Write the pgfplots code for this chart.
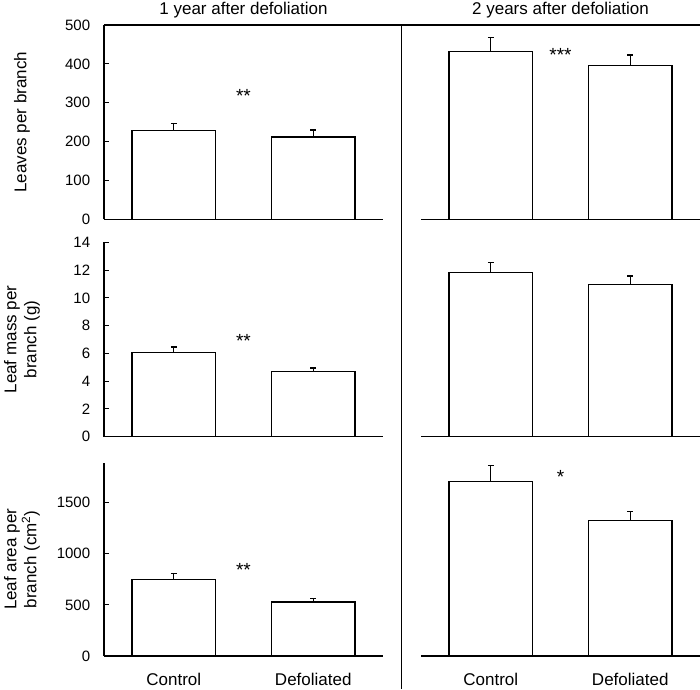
\documentclass[border=0pt]{standalone}
\usepackage{fontspec}
\setmainfont{Liberation Sans}
\usepackage{pgfplots}
\pgfplotsset{compat=1.18}
\tikzset{sig/.style={anchor=base, font=\fontsize{19}{22}\selectfont}}
\begin{document}
\fontsize{17}{20}\selectfont
\begin{tikzpicture}
\pgfplotsset{
  base/.style={
    scale only axis, width=279pt, xmin=-0.5, xmax=1.5, ymin=0, clip=false,
    axis line style={line width=1.1pt,-},
    xtick={0,1}, xticklabels={}, xtick style={draw=none},
    tick align=inside, ytick pos=left, major tick length=5pt,
    ytick style={line width=1.1pt,black},
    /pgf/number format/assume math mode=true,
    /pgf/number format/1000 sep={},
    yticklabel style={font=\fontsize{15}{18}\selectfont, xshift=-8pt},
    xticklabel style={anchor=base, yshift=-29pt},
    ylabel style={at={(axis description cs:-0.294,0.5)}, anchor=center, align=center},
    title style={at={(0.5,1)}, anchor=base, yshift=4pt},
    anchor=south west,
  },
  leftcol/.style={base, axis x line*=bottom, axis y line*=left},
  rightcol/.style={base, axis x line*=bottom, axis y line=none, ytick=\empty},
  barplot/.style={ybar, bar width=0.6, fill=white, draw=black, line width=1.3pt,
    error bars/.cd, y dir=plus, y explicit,
    error bar style={line width=1.3pt},
    error mark options={rotate=90, mark size=3pt, line width=1.3pt}},
}
\path[use as bounding box] (0pt,0pt) rectangle (700pt,689pt);
% Row 1
\begin{axis}[leftcol, at={(104pt,469.7pt)}, height=194.3pt, ymax=500,
  ytick={0,100,...,500}, ylabel={Leaves per branch}, title={1 year after defoliation}]
\addplot[barplot] coordinates {(0,229) +- (0,18) (1,212) +- (0,18)};
\node[sig] at (axis cs:0.5,300) {**};
\end{axis}
\begin{axis}[rightcol, at={(421pt,469.7pt)}, height=194.3pt, ymax=500,
  title={2 years after defoliation}]
\addplot[barplot] coordinates {(0,431) +- (0,37) (1,395) +- (0,28)};
\node[sig] at (axis cs:0.5,407) {***};
\end{axis}
% Row 2
\begin{axis}[leftcol, at={(104pt,252.3pt)}, height=194.4pt, ymax=14,
  ytick={0,2,...,14}, ylabel={Leaf mass per\\branch (g)}]
\addplot[barplot] coordinates {(0,6.04) +- (0,0.41) (1,4.70) +- (0,0.24)};
\node[sig] at (axis cs:0.5,6.4) {**};
\end{axis}
\begin{axis}[rightcol, at={(421pt,252.3pt)}, height=194.4pt, ymax=14]
\addplot[barplot] coordinates {(0,11.8) +- (0,0.75) (1,10.96) +- (0,0.62)};
\end{axis}
% Row 3
\begin{axis}[leftcol, at={(104pt,33pt)}, height=193.3pt, ymax=1890,
  ytick={0,500,1000,1500}, ylabel={Leaf area per\\branch (cm\textsuperscript{2})},
  xticklabels={Control,Defoliated}]
\addplot[barplot] coordinates {(0,750) +- (0,59) (1,528) +- (0,37)};
\node[sig] at (axis cs:0.5,780) {**};
\end{axis}
\begin{axis}[rightcol, at={(421pt,33pt)}, height=193.3pt, ymax=1890,
  xticklabels={Control,Defoliated}]
\addplot[barplot] coordinates {(0,1709) +- (0,153) (1,1328) +- (0,84)};
\node[sig] at (axis cs:0.5,1690) {*};
\end{axis}
\draw[line width=1.1pt] (104pt,664pt) -- (700pt,664pt);
\draw[line width=1.1pt] (401.7pt,664pt) -- (401.7pt,0pt);
\end{tikzpicture}
\end{document}
